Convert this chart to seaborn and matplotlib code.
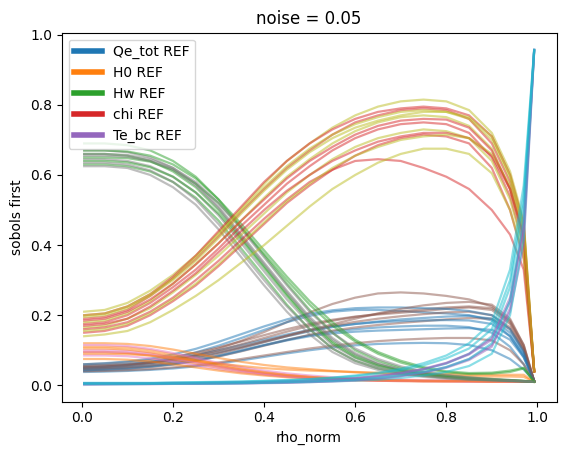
import matplotlib
matplotlib.use("Agg")
import matplotlib.pyplot as plt
import seaborn as sns
from matplotlib.lines import Line2D

rho = [0.005, 0.05, 0.1, 0.15, 0.2, 0.25, 0.3, 0.35, 0.4, 0.45, 0.5, 0.55,
       0.6, 0.65, 0.7, 0.75, 0.8, 0.85, 0.9, 0.94, 0.97, 0.993]

# Qe_tot: ref colour (blue) and companion (brown)
qe_blue = [
    [0.045, 0.047, 0.05, 0.055, 0.062, 0.072, 0.085, 0.1, 0.115, 0.13, 0.143, 0.153, 0.16, 0.165, 0.168, 0.17, 0.17, 0.166, 0.15, 0.11, 0.06, 0.012],
    [0.05, 0.053, 0.058, 0.066, 0.078, 0.094, 0.113, 0.135, 0.158, 0.18, 0.198, 0.21, 0.215, 0.215, 0.212, 0.208, 0.205, 0.2, 0.185, 0.14, 0.08, 0.012],
    [0.038, 0.039, 0.041, 0.044, 0.048, 0.054, 0.062, 0.071, 0.081, 0.091, 0.1, 0.108, 0.114, 0.118, 0.12, 0.121, 0.12, 0.115, 0.1, 0.075, 0.045, 0.012],
    [0.055, 0.057, 0.061, 0.067, 0.075, 0.086, 0.1, 0.115, 0.13, 0.145, 0.158, 0.168, 0.175, 0.18, 0.183, 0.185, 0.186, 0.185, 0.175, 0.14, 0.085, 0.012],
    [0.048, 0.05, 0.054, 0.06, 0.068, 0.079, 0.093, 0.108, 0.124, 0.14, 0.154, 0.166, 0.175, 0.182, 0.188, 0.192, 0.196, 0.198, 0.19, 0.15, 0.09, 0.012],
    [0.043, 0.045, 0.048, 0.053, 0.06, 0.07, 0.083, 0.098, 0.114, 0.128, 0.14, 0.148, 0.153, 0.156, 0.158, 0.16, 0.162, 0.163, 0.158, 0.13, 0.08, 0.012],
    [0.06, 0.063, 0.068, 0.076, 0.088, 0.104, 0.124, 0.146, 0.168, 0.188, 0.204, 0.214, 0.22, 0.222, 0.222, 0.22, 0.218, 0.212, 0.2, 0.16, 0.095, 0.012],
]
qe_brown = [
    [0.05, 0.052, 0.056, 0.063, 0.073, 0.087, 0.105, 0.127, 0.152, 0.18, 0.208, 0.232, 0.25, 0.262, 0.265, 0.262, 0.255, 0.245, 0.225, 0.18, 0.11, 0.012],
    [0.042, 0.044, 0.047, 0.052, 0.059, 0.069, 0.082, 0.097, 0.113, 0.129, 0.144, 0.156, 0.165, 0.172, 0.178, 0.183, 0.188, 0.192, 0.19, 0.16, 0.1, 0.012],
    [0.06, 0.062, 0.066, 0.072, 0.081, 0.093, 0.108, 0.125, 0.143, 0.16, 0.175, 0.187, 0.196, 0.202, 0.207, 0.212, 0.218, 0.222, 0.215, 0.175, 0.105, 0.012],
    [0.04, 0.041, 0.043, 0.046, 0.051, 0.057, 0.065, 0.075, 0.085, 0.095, 0.105, 0.113, 0.12, 0.126, 0.13, 0.133, 0.135, 0.135, 0.128, 0.1, 0.06, 0.012],
    [0.052, 0.054, 0.058, 0.064, 0.073, 0.085, 0.1, 0.117, 0.135, 0.153, 0.17, 0.184, 0.195, 0.204, 0.211, 0.217, 0.222, 0.225, 0.22, 0.185, 0.115, 0.012],
    [0.047, 0.049, 0.052, 0.057, 0.065, 0.076, 0.09, 0.106, 0.123, 0.14, 0.156, 0.17, 0.181, 0.19, 0.197, 0.203, 0.208, 0.21, 0.2, 0.165, 0.1, 0.012],
    [0.055, 0.057, 0.06, 0.065, 0.072, 0.082, 0.095, 0.11, 0.126, 0.142, 0.158, 0.174, 0.19, 0.205, 0.218, 0.228, 0.235, 0.238, 0.23, 0.19, 0.115, 0.012],
]

# H0: orange and pink
h0_orange = [
    [0.11, 0.11, 0.108, 0.1, 0.088, 0.074, 0.06, 0.048, 0.038, 0.03, 0.024, 0.02, 0.017, 0.015, 0.014, 0.013, 0.013, 0.012, 0.012, 0.011, 0.011, 0.01],
    [0.095, 0.095, 0.092, 0.085, 0.074, 0.062, 0.05, 0.04, 0.032, 0.026, 0.021, 0.018, 0.016, 0.014, 0.013, 0.012, 0.012, 0.012, 0.011, 0.011, 0.01, 0.01],
    [0.12, 0.12, 0.118, 0.112, 0.102, 0.09, 0.078, 0.067, 0.058, 0.051, 0.046, 0.041, 0.037, 0.034, 0.031, 0.029, 0.027, 0.026, 0.025, 0.025, 0.024, 0.01],
    [0.075, 0.075, 0.073, 0.068, 0.06, 0.051, 0.042, 0.034, 0.028, 0.023, 0.019, 0.016, 0.014, 0.013, 0.012, 0.011, 0.011, 0.011, 0.01, 0.01, 0.01, 0.01],
    [0.105, 0.105, 0.102, 0.094, 0.082, 0.069, 0.056, 0.045, 0.036, 0.029, 0.024, 0.02, 0.017, 0.015, 0.014, 0.013, 0.012, 0.012, 0.011, 0.011, 0.011, 0.01],
    [0.09, 0.09, 0.089, 0.085, 0.078, 0.07, 0.062, 0.055, 0.049, 0.045, 0.042, 0.04, 0.038, 0.036, 0.034, 0.033, 0.032, 0.031, 0.03, 0.03, 0.03, 0.01],
]
h0_pink = [
    [0.1, 0.1, 0.098, 0.091, 0.08, 0.067, 0.054, 0.043, 0.034, 0.027, 0.022, 0.018, 0.016, 0.014, 0.013, 0.012, 0.012, 0.011, 0.011, 0.011, 0.01, 0.01],
    [0.085, 0.085, 0.083, 0.077, 0.068, 0.057, 0.046, 0.037, 0.03, 0.024, 0.02, 0.017, 0.015, 0.013, 0.012, 0.012, 0.011, 0.011, 0.01, 0.01, 0.01, 0.01],
    [0.115, 0.115, 0.112, 0.104, 0.092, 0.078, 0.064, 0.052, 0.042, 0.034, 0.028, 0.023, 0.02, 0.018, 0.016, 0.015, 0.014, 0.014, 0.013, 0.013, 0.012, 0.01],
    [0.095, 0.095, 0.093, 0.087, 0.077, 0.065, 0.053, 0.042, 0.033, 0.026, 0.021, 0.018, 0.015, 0.014, 0.013, 0.012, 0.012, 0.011, 0.011, 0.01, 0.01, 0.01],
]

# Hw: green and grey
hw_green = [
    [0.66, 0.66, 0.655, 0.64, 0.61, 0.565, 0.5, 0.42, 0.34, 0.26, 0.185, 0.125, 0.085, 0.06, 0.043, 0.032, 0.025, 0.02, 0.016, 0.014, 0.012, 0.01],
    [0.63, 0.63, 0.625, 0.61, 0.58, 0.535, 0.47, 0.39, 0.31, 0.23, 0.16, 0.105, 0.07, 0.048, 0.035, 0.027, 0.021, 0.017, 0.015, 0.013, 0.011, 0.01],
    [0.65, 0.65, 0.648, 0.638, 0.615, 0.575, 0.52, 0.45, 0.375, 0.3, 0.23, 0.17, 0.125, 0.09, 0.065, 0.048, 0.037, 0.032, 0.033, 0.038, 0.048, 0.01],
    [0.69, 0.69, 0.685, 0.67, 0.64, 0.595, 0.53, 0.45, 0.37, 0.29, 0.215, 0.15, 0.1, 0.07, 0.05, 0.037, 0.028, 0.022, 0.018, 0.015, 0.013, 0.01],
    [0.64, 0.64, 0.636, 0.622, 0.595, 0.55, 0.49, 0.415, 0.335, 0.255, 0.18, 0.12, 0.08, 0.056, 0.041, 0.031, 0.024, 0.019, 0.016, 0.014, 0.012, 0.01],
    [0.67, 0.67, 0.667, 0.655, 0.63, 0.59, 0.53, 0.46, 0.385, 0.31, 0.24, 0.18, 0.13, 0.095, 0.07, 0.052, 0.04, 0.035, 0.036, 0.042, 0.05, 0.01],
]
hw_grey = [
    [0.645, 0.645, 0.64, 0.625, 0.595, 0.55, 0.485, 0.405, 0.325, 0.245, 0.175, 0.115, 0.078, 0.054, 0.04, 0.03, 0.023, 0.018, 0.015, 0.013, 0.011, 0.01],
    [0.67, 0.67, 0.665, 0.65, 0.62, 0.575, 0.51, 0.43, 0.35, 0.27, 0.195, 0.135, 0.092, 0.064, 0.046, 0.034, 0.026, 0.021, 0.017, 0.014, 0.012, 0.01],
    [0.625, 0.625, 0.62, 0.6, 0.565, 0.515, 0.445, 0.365, 0.285, 0.21, 0.145, 0.095, 0.063, 0.044, 0.032, 0.024, 0.019, 0.016, 0.014, 0.012, 0.011, 0.01],
    [0.655, 0.655, 0.652, 0.64, 0.615, 0.57, 0.505, 0.425, 0.345, 0.265, 0.19, 0.13, 0.088, 0.06, 0.044, 0.033, 0.025, 0.02, 0.016, 0.014, 0.012, 0.01],
    [0.635, 0.635, 0.63, 0.613, 0.58, 0.53, 0.46, 0.38, 0.3, 0.225, 0.16, 0.105, 0.07, 0.049, 0.036, 0.027, 0.021, 0.017, 0.014, 0.012, 0.011, 0.01],
    [0.66, 0.66, 0.657, 0.645, 0.62, 0.58, 0.52, 0.445, 0.365, 0.285, 0.21, 0.15, 0.105, 0.075, 0.054, 0.04, 0.03, 0.023, 0.018, 0.015, 0.012, 0.01],
]

# chi: red and olive
chi_red = [
    [0.19, 0.195, 0.215, 0.255, 0.305, 0.36, 0.425, 0.495, 0.56, 0.62, 0.67, 0.715, 0.75, 0.77, 0.785, 0.79, 0.785, 0.76, 0.69, 0.58, 0.44, 0.04],
    [0.175, 0.18, 0.2, 0.235, 0.28, 0.33, 0.39, 0.455, 0.515, 0.575, 0.625, 0.67, 0.705, 0.73, 0.745, 0.75, 0.745, 0.72, 0.65, 0.54, 0.4, 0.04],
    [0.15, 0.155, 0.17, 0.2, 0.24, 0.285, 0.34, 0.4, 0.46, 0.52, 0.57, 0.615, 0.655, 0.685, 0.705, 0.715, 0.71, 0.69, 0.62, 0.5, 0.36, 0.04],
    [0.16, 0.165, 0.18, 0.21, 0.25, 0.3, 0.355, 0.415, 0.475, 0.53, 0.58, 0.615, 0.64, 0.645, 0.64, 0.62, 0.595, 0.56, 0.5, 0.43, 0.33, 0.04],
    [0.2, 0.205, 0.225, 0.26, 0.31, 0.37, 0.44, 0.51, 0.58, 0.64, 0.69, 0.73, 0.76, 0.78, 0.79, 0.795, 0.79, 0.77, 0.71, 0.6, 0.46, 0.04],
    [0.17, 0.175, 0.19, 0.225, 0.27, 0.32, 0.38, 0.44, 0.5, 0.555, 0.6, 0.64, 0.67, 0.695, 0.71, 0.72, 0.72, 0.705, 0.655, 0.56, 0.43, 0.04],
    [0.185, 0.19, 0.21, 0.245, 0.29, 0.345, 0.405, 0.47, 0.53, 0.59, 0.64, 0.68, 0.715, 0.74, 0.755, 0.76, 0.758, 0.735, 0.67, 0.56, 0.42, 0.04],
]
chi_olive = [
    [0.21, 0.215, 0.235, 0.27, 0.315, 0.37, 0.435, 0.505, 0.575, 0.64, 0.69, 0.735, 0.77, 0.795, 0.81, 0.815, 0.81, 0.785, 0.72, 0.61, 0.47, 0.04],
    [0.18, 0.185, 0.205, 0.24, 0.29, 0.345, 0.405, 0.47, 0.535, 0.595, 0.645, 0.69, 0.725, 0.75, 0.765, 0.77, 0.765, 0.74, 0.675, 0.56, 0.42, 0.04],
    [0.165, 0.17, 0.19, 0.22, 0.265, 0.315, 0.37, 0.43, 0.49, 0.55, 0.6, 0.645, 0.68, 0.705, 0.72, 0.73, 0.725, 0.705, 0.64, 0.53, 0.39, 0.04],
    [0.14, 0.145, 0.155, 0.18, 0.215, 0.255, 0.3, 0.35, 0.4, 0.455, 0.51, 0.56, 0.6, 0.635, 0.66, 0.675, 0.675, 0.66, 0.605, 0.5, 0.37, 0.04],
    [0.195, 0.2, 0.22, 0.255, 0.3, 0.355, 0.42, 0.49, 0.555, 0.615, 0.665, 0.705, 0.735, 0.755, 0.77, 0.78, 0.78, 0.765, 0.71, 0.6, 0.46, 0.04],
    [0.155, 0.16, 0.175, 0.205, 0.245, 0.29, 0.345, 0.405, 0.465, 0.525, 0.575, 0.62, 0.655, 0.68, 0.7, 0.71, 0.715, 0.705, 0.66, 0.57, 0.44, 0.04],
    [0.2, 0.205, 0.225, 0.26, 0.305, 0.365, 0.43, 0.5, 0.565, 0.625, 0.675, 0.715, 0.745, 0.765, 0.78, 0.785, 0.78, 0.76, 0.7, 0.59, 0.45, 0.04],
]

# Te_bc: purple and cyan
te_purple = [
    [0.004, 0.004, 0.004, 0.004, 0.005, 0.005, 0.006, 0.006, 0.007, 0.008, 0.01, 0.012, 0.015, 0.02, 0.027, 0.037, 0.052, 0.075, 0.115, 0.21, 0.4, 0.955],
    [0.006, 0.006, 0.006, 0.006, 0.007, 0.007, 0.008, 0.009, 0.01, 0.012, 0.014, 0.017, 0.021, 0.027, 0.035, 0.047, 0.064, 0.09, 0.135, 0.25, 0.45, 0.958],
    [0.001, 0.002, 0.003, 0.003, 0.004, 0.004, 0.004, 0.005, 0.006, 0.007, 0.009, 0.011, 0.014, 0.019, 0.026, 0.036, 0.05, 0.072, 0.11, 0.22, 0.47, 0.955],
    [0.005, 0.005, 0.005, 0.005, 0.006, 0.006, 0.007, 0.008, 0.009, 0.011, 0.013, 0.016, 0.02, 0.026, 0.034, 0.046, 0.063, 0.088, 0.13, 0.24, 0.44, 0.956],
]
te_cyan = [
    [0.005, 0.005, 0.005, 0.005, 0.006, 0.006, 0.007, 0.008, 0.009, 0.01, 0.012, 0.015, 0.019, 0.025, 0.033, 0.045, 0.062, 0.09, 0.14, 0.28, 0.52, 0.956],
    [0.004, 0.004, 0.004, 0.004, 0.005, 0.005, 0.005, 0.006, 0.007, 0.008, 0.009, 0.011, 0.013, 0.016, 0.021, 0.028, 0.038, 0.055, 0.09, 0.2, 0.42, 0.954],
    [0.007, 0.007, 0.007, 0.007, 0.008, 0.009, 0.01, 0.011, 0.013, 0.015, 0.018, 0.022, 0.028, 0.036, 0.047, 0.063, 0.085, 0.12, 0.18, 0.33, 0.57, 0.957],
    [0.006, 0.006, 0.006, 0.006, 0.007, 0.008, 0.009, 0.01, 0.012, 0.014, 0.017, 0.021, 0.026, 0.033, 0.043, 0.057, 0.077, 0.105, 0.16, 0.3, 0.54, 0.957],
    [0.003, 0.003, 0.003, 0.004, 0.004, 0.005, 0.005, 0.006, 0.007, 0.009, 0.011, 0.013, 0.016, 0.021, 0.028, 0.038, 0.052, 0.075, 0.12, 0.24, 0.48, 0.955],
]

params = ["Qe_tot", "H0", "Hw", "chi", "Te_bc"]
pal = sns.color_palette("tab10")
groups = [
    (qe_blue, qe_brown),
    (h0_orange, h0_pink),
    (hw_green, hw_grey),
    (chi_red, chi_olive),
    (te_purple, te_cyan),
]

fig = plt.figure(figsize=(5.67, 4.55), dpi=100)
ax = fig.add_axes([0.1088, 0.1171, 0.873, 0.811])

for i, (ref_curves, other_curves) in enumerate(groups):
    # interleave the two colours so neither sits fully on top
    n = max(len(ref_curves), len(other_curves))
    for k in range(n):
        if k < len(ref_curves):
            sns.lineplot(x=rho, y=ref_curves[k], color=pal[i], alpha=0.5,
                         lw=1.6, ax=ax, legend=False)
        if k < len(other_curves):
            sns.lineplot(x=rho, y=other_curves[k], color=pal[i + 5], alpha=0.5,
                         lw=1.6, ax=ax, legend=False)

handles = [Line2D([0], [0], color=pal[i], lw=4) for i in range(len(params))]
ax.legend(handles, [p + " REF" for p in params], loc="upper left")
ax.set_title("noise = 0.05")
ax.set_xlabel("rho_norm")
ax.set_ylabel("sobols first")

fig.savefig("out.png", dpi=100)
